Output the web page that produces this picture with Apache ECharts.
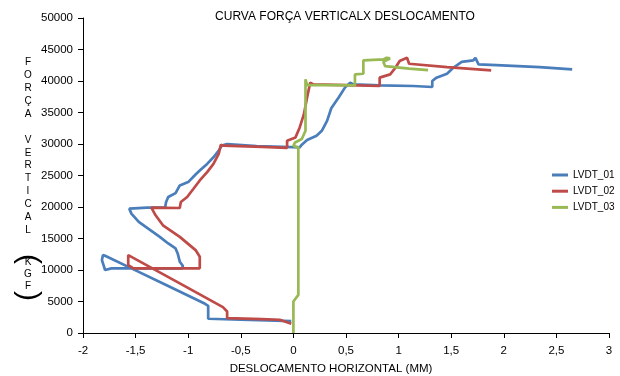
<!DOCTYPE html>
<html>
<head>
<meta charset="utf-8">
<script src="https://cdn.jsdelivr.net/npm/echarts@6/dist/echarts.min.js"></script>
<style>html,body{margin:0;padding:0;background:#fff}#c{width:620px;height:376px}</style>
</head>
<body>
<div id="c"></div>
<script>
var seriesNames = ['LVDT_01', 'LVDT_02', 'LVDT_03'];
var xTicks = [-2, -1.5, -1, -0.5, 0, 0.5, 1, 1.5, 2, 2.5, 3];
var yTicks = [0, 5000, 10000, 15000, 20000, 25000, 30000, 35000, 40000, 45000, 50000];

var lvdt01X = [-0.02, -0.25, -0.5, -0.81, -0.81, -0.84, -1.2, -1.52, -1.79, -1.81, -1.82, -1.79, -1.73, -1.4, -1.06, -1.05, -1.08, -1.10, -1.12, -1.19, -1.27, -1.36, -1.47, -1.54, -1.56, -1.55, -1.39, -1.22, -1.21, -1.19, -1.12, -1.08, -1.00, -0.93, -0.89, -0.82, -0.76, -0.71, -0.68, -0.63, -0.35, 0.06, 0.08, 0.13, 0.22, 0.27, 0.32, 0.36, 0.43, 0.49, 0.54, 0.55, 0.57, 0.82, 1.14, 1.32, 1.32, 1.36, 1.46, 1.52, 1.60, 1.71, 1.73, 1.76, 1.93, 2.34, 2.65];
var lvdt01Y = [1900, 2000, 2100, 2260, 4320, 4630, 7530, 10100, 12260, 12370, 11580, 10000, 10260, 10260, 10260, 10630, 11320, 12630, 13420, 14210, 15260, 16320, 17630, 18950, 19740, 19900, 19900, 19900, 20790, 21580, 22210, 23420, 23950, 25160, 25790, 26840, 27890, 28950, 29740, 30000, 29680, 29470, 29890, 30630, 31320, 32100, 33680, 35680, 37370, 38950, 39740, 40000, 39470, 39320, 39210, 39050, 40000, 40530, 41160, 42100, 43050, 43260, 43680, 42630, 42530, 42210, 41840];

var lvdt02X = [-0.02, -0.13, -0.3, -0.63, -0.63, -0.67, -1.08, -1.57, -1.58, -1.57, -1.52, -1.2, -0.89, -0.89, -0.93, -1.08, -1.24, -1.31, -1.35, -1.08, -1.07, -1.01, -0.95, -0.89, -0.82, -0.76, -0.71, -0.69, -0.67, -0.3, -0.06, -0.06, 0.02, 0.06, 0.10, 0.13, 0.16, 0.17, 0.19, 0.5, 0.82, 0.82, 0.92, 0.97, 1.01, 1.08, 1.10, 1.46, 1.88];
var lvdt02Y = [1470, 2100, 2200, 2370, 3420, 4100, 7870, 12370, 12100, 10790, 10260, 10260, 10260, 12100, 13160, 15260, 17100, 18680, 19890, 19840, 20790, 21580, 22890, 24210, 25530, 26840, 28420, 29890, 29740, 29550, 29370, 30530, 31050, 32630, 34740, 37370, 39740, 40000, 39470, 39350, 39210, 40530, 41050, 42100, 43160, 43680, 42740, 42210, 41690];

var lvdt03X = [0, 0, 0.047, 0.047, 0.0, 0.016, 0.08, 0.115, 0.115, 0.13, 0.35, 0.585, 0.585, 0.665, 0.665, 0.855, 0.886, 0.918, 0.855, 0.871, 0.886, 1.1, 1.28];
var lvdt03Y = [0, 5000, 6050, 29470, 29700, 30250, 30790, 32100, 40260, 39350, 39350, 39300, 41050, 41150, 43260, 43420, 43680, 43580, 43050, 42370, 42210, 41950, 41730];

function zip(xs, ys) { return xs.map(function (x, i) { return [x, ys[i]]; }); }

var colors = ['#4A7EBB', '#BE4B48', '#98B954'];
var font = 'Liberation Sans, Arial, sans-serif';

var chart = echarts.init(document.getElementById('c'), null, {renderer: 'canvas'});
chart.setOption({
  animation: false,
  color: colors,
  grid: {left: 83, right: 11, top: 18, bottom: 43, containLabel: false},
  xAxis: {
    type: 'value', min: xTicks[0], max: xTicks[xTicks.length - 1], interval: 0.5,
    splitLine: {show: false},
    axisLine: {show: true, onZero: false, lineStyle: {color: '#000', width: 1}},
    axisTick: {show: true, length: 5, lineStyle: {color: '#000'}},
    axisLabel: {margin: 12, fontSize: 11.5, color: '#000', fontFamily: font,
      formatter: function (v) { return String(v).replace('.', ','); }}
  },
  yAxis: {
    type: 'value', min: yTicks[0], max: yTicks[yTicks.length - 1], interval: 5000,
    splitLine: {show: false},
    axisLine: {show: true, onZero: false, lineStyle: {color: '#000', width: 1}},
    axisTick: {show: true, length: 5, lineStyle: {color: '#000'}},
    axisLabel: {margin: 10, fontSize: 11.5, color: '#000', fontFamily: font,
      formatter: function (v) { return String(v); }}
  },
  legend: {
    orient: 'vertical', left: 547, top: 165, itemGap: 6.2,
    itemWidth: 16, itemHeight: 3, icon: 'rect',
    textStyle: {fontSize: 10, color: '#000', fontFamily: font},
    data: seriesNames
  },
  graphic: [
    {type: 'text', x: 345, y: 17, style: {text: 'CURVA FORÇA VERTICALX DESLOCAMENTO', font: '12px ' + font, fill: '#000', align: 'center', verticalAlign: 'middle'}},
    {type: 'text', x: 331, y: 369, style: {text: 'DESLOCAMENTO HORIZONTAL (MM)', font: '11.5px ' + font, fill: '#000', align: 'center', verticalAlign: 'middle'}},
    {type: 'text', x: 28, y: 56, style: {text: 'F\nO\nR\nÇ\nA\n\nV\nE\nR\nT\nI\nC\nA\nL', font: '10px ' + font, fill: '#000', align: 'center', lineHeight: 12.9}},
    {type: 'text', x: 28, y: 256, style: {text: 'K\nG\nF', font: '10px ' + font, fill: '#000', align: 'center', lineHeight: 12}},
    {type: 'text', x: 28, y: 259, rotation: -Math.PI / 2, style: {text: '(', font: '30px ' + font, fill: '#000', align: 'center', verticalAlign: 'middle'}},
    {type: 'text', x: 28, y: 296, rotation: -Math.PI / 2, style: {text: ')', font: '30px ' + font, fill: '#000', align: 'center', verticalAlign: 'middle'}}
  ],
  series: [
    {name: seriesNames[0], type: 'line', data: zip(lvdt01X, lvdt01Y), showSymbol: false, symbol: 'none', lineStyle: {width: 2.7}},
    {name: seriesNames[1], type: 'line', data: zip(lvdt02X, lvdt02Y), showSymbol: false, symbol: 'none', lineStyle: {width: 2.7}},
    {name: seriesNames[2], type: 'line', data: zip(lvdt03X, lvdt03Y), showSymbol: false, symbol: 'none', lineStyle: {width: 2.7}}
  ]
});
</script>
</body>
</html>
